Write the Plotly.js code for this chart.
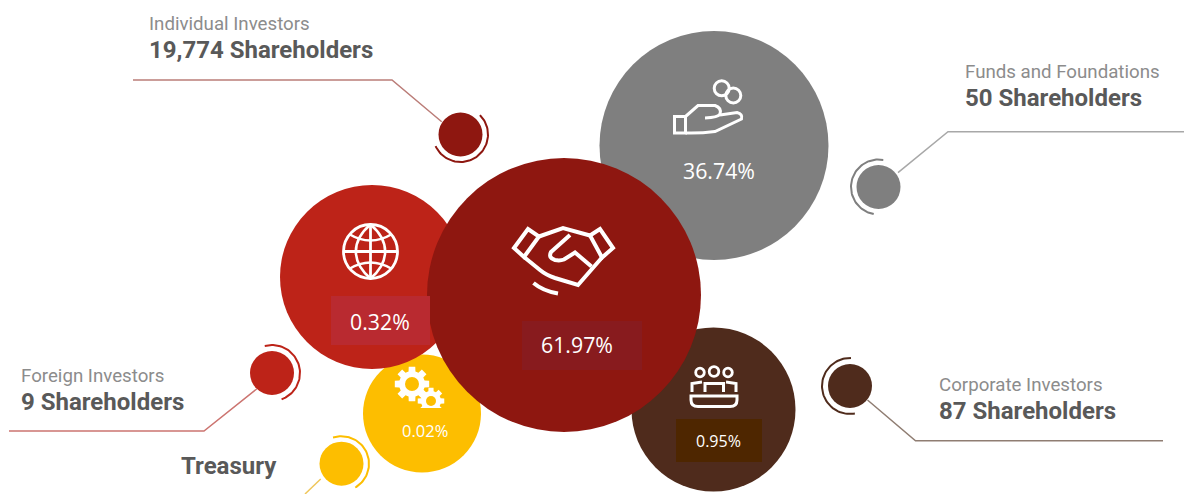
<!DOCTYPE html>
<html>
<head>
<meta charset="utf-8">
<script src="https://cdn.plot.ly/plotly-3.0.1.min.js"></script>
<style>html,body{margin:0;padding:0;background:#fff}#chart{width:1184px;height:494px}</style>
</head>
<body>
<div id="chart"></div>
<script>
// ---- data ----
const categories = ['Funds and Foundations','Corporate Investors','Treasury','Foreign Investors','Individual Investors'];
const percentLabels = ['36.74%','0.95%','0.02%','0.32%','61.97%'];
const holderLabels = ['50 Shareholders','87 Shareholders','','9 Shareholders','19,774 Shareholders'];
const colours = ['#7f7f7f','#4f2b1c','#fdbe00','#bd2318','#8e1710'];
const lineColours = ['#a8a8a8','#8f7d72','#efc65a','#cc7470','#bb7d78'];

const bubbleX = [714,713.5,422,372,564];
const bubbleY = [145.5,409.5,413.5,277,295];
const bubbleD = [229,164,118,184,274];

const dotX = [878.5,850,341.5,272,460.5];
const dotY = [187,386,463.7,373,134.5];
const dotD = [44,44,44,44,44];

const arcFrom = [-80,-88,-108,-105,-45];      // degrees clockwise from +x
const arcTo = [-260,-280,60,70,155];
const arcR = [27.5,28,27.5,28,27.5];

const leaderX = [[898,948,1184],[867.5,915.5,1163],[320.7,305],[256.7,204,9],[441.7,392,133]];
const leaderY = [[172.7,131.7,131.7],[400,440.7,440.7],[479,494],[389,431,431],[121.7,80,80]];

const labelX = [963,937,179,19,147];
const nameY = [72,385,466,376,24];
const holderY = [98,411,466,402,50];
const pctX = [719,718.5,425,380,577];
const pctY = [170.5,441,430,321,344.5];
const pctSize = [21.3,16,16.5,21.3,21.3];

// ---- traces ----
const traces = [];
categories.forEach((c,i)=>{
  traces.push({type:'scatter',mode:'lines',x:leaderX[i],y:leaderY[i],
    line:{color:lineColours[i],width:1.5},hoverinfo:'skip',showlegend:false});
});
categories.forEach((c,i)=>{
  const xs=[],ys=[],n=60;
  for(let k=0;k<=n;k++){
    const a=(arcFrom[i]+(arcTo[i]-arcFrom[i])*k/n)*Math.PI/180;
    xs.push(dotX[i]+arcR[i]*Math.cos(a));ys.push(dotY[i]+arcR[i]*Math.sin(a));
  }
  traces.push({type:'scatter',mode:'lines',x:xs,y:ys,line:{color:colours[i],width:2},hoverinfo:'skip',showlegend:false});
});
categories.forEach((c,i)=>{
  traces.push({type:'scatter',mode:'markers',name:c,x:[bubbleX[i]],y:[bubbleY[i]],
    marker:{size:bubbleD[i],color:colours[i],line:{width:0},opacity:1},hoverinfo:'skip',showlegend:false,cliponaxis:false});
});
traces.push({type:'scatter',mode:'markers',x:dotX,y:dotY,
  marker:{size:dotD,color:colours,line:{width:0},opacity:1},hoverinfo:'skip',showlegend:false});

// ---- decoration: rectangles behind percentages and icons ----
function rect(x0,y0,x1,y1,c){return {type:'rect',xref:'x',yref:'y',x0,y0,x1,y1,fillcolor:c,line:{width:0},layer:'above'};}
function icon(d,w){return {type:'path',xref:'x',yref:'y',path:d,line:{color:'#ffffff',width:w||3},layer:'above'};}
function ring(cx,cy,r,w){return {type:'circle',xref:'x',yref:'y',x0:cx-r,x1:cx+r,y0:cy-r,y1:cy+r,line:{color:'#ffffff',width:w||3},layer:'above'};}
function disc(cx,cy,r,c){return {type:'circle',xref:'x',yref:'y',x0:cx-r,x1:cx+r,y0:cy-r,y1:cy+r,fillcolor:c,line:{width:0},layer:'above'};}
function gear(cx,cy,ro,ri,n){
  let d='';const st=2*Math.PI/n;
  for(let i=0;i<n;i++){
    const a=i*st-Math.PI/2;
    const pts=[[ri,a-st*0.34],[ro,a-st*0.24],[ro,a+st*0.24],[ri,a+st*0.34]];
    pts.forEach((p,j)=>{d+=(i===0&&j===0?'M':'L')+(cx+p[0]*Math.cos(p[1])).toFixed(2)+','+(cy+p[0]*Math.sin(p[1])).toFixed(2)+' ';});
  }
  return {type:'path',xref:'x',yref:'y',path:d+'Z',fillcolor:'#ffffff',line:{width:0},layer:'above'};
}
const shapes=[
  rect(331,296,430,345,'#b92a30'),
  rect(522,321,642,370,'#881b1e'),
  rect(676,419,762,462,'#4e2600'),
  // handshake
  icon('M514,248 L528,229 L539,236.5 L524,257 Z',4),
  icon('M590,235.5 L600,229 L613,248 L602,257.5 Z',4),
  icon('M539,236.5 L563,228 L590,235.5',4),
  icon('M570,235 L551,252 Q548,258 555,260 Q560,261 564,259.5 L575,252.5 L591.5,266.5',4),
  icon('M602,257.5 L578,285 L555,278 Q546,275 540,270 L524,257',4),
  icon('M533.5,283 Q543,291 558,293.5',4),
  // hand with coins
  ring(721.7,88.3,7.5,3), ring(733.3,95.5,7.5,3),
  icon('M674.5,116.5 L685.5,116.5 L685.5,133 L674.5,133 Z',3),
  icon('M685.5,116.5 L698,105.5 L715,105.5 Q722,108 720,114 Q718,117.5 705,118',3),
  icon('M720,115 L737,112.5 Q743,114 741.5,119 L715,131.5 Q700,133.5 685.5,133',3),
  // globe
  ring(370.5,251.5,27,2.8),
  icon('M343.5,251.5 L397.5,251.5',2.8),
  icon('M370.5,224.5 L370.5,278.5',2.8),
  icon('M370.5,224.5 C351,241 351,262 370.5,278.5',2.6),
  icon('M370.5,224.5 C390,241 390,262 370.5,278.5',2.6),
  icon('M349,234 Q370.5,247 392,234',2.6),
  icon('M349,269 Q370.5,256 392,269',2.6),
  // gears
  gear(412,384,17.5,13,8), disc(412,384,7,'#fdbe00'),
  gear(431,401,13.5,10,8), disc(431,401,5,'#fdbe00'),
  rect(415,408,447,416,'#fdbe00'),
  // people around a table
  ring(700,372.5,4.3,2.8), ring(714,371.5,4.8,2.8), ring(728,372.5,4.3,2.8),
  icon('M692,392 L692,383.5 L702,382',3),
  icon('M705,392 L705,383.5 L723.5,383.5 L723.5,392',3),
  icon('M736,392 L736,383.5 L726,382',3),
  icon('M691,396 L737,396 L737,400 Q737,406.5 730,406.5 L698,406.5 Q691,406.5 691,400 Z',3)
];

// ---- text ----
const annotations=[];
categories.forEach((c,i)=>{
  if(holderLabels[i]){
    annotations.push({x:labelX[i],y:nameY[i],xref:'x',yref:'y',text:c,showarrow:false,xanchor:'left',yanchor:'middle',
      font:{family:'Roboto',size:18.7,color:'#8c8c8c'}});
    annotations.push({x:labelX[i],y:holderY[i],xref:'x',yref:'y',text:holderLabels[i],showarrow:false,xanchor:'left',yanchor:'middle',
      font:{family:'Roboto',size:24,color:'#595959',weight:700}});
  } else {
    annotations.push({x:labelX[i],y:holderY[i],xref:'x',yref:'y',text:c,showarrow:false,xanchor:'left',yanchor:'middle',
      font:{family:'Roboto',size:24,color:'#595959',weight:700}});
  }
  annotations.push({x:pctX[i],y:pctY[i],xref:'x',yref:'y',text:percentLabels[i],showarrow:false,xanchor:'center',yanchor:'middle',
    font:{family:'Open Sans',size:pctSize[i],color:'#ffffff'}});
});

const layout={
  width:1184,height:494,margin:{l:0,r:0,t:0,b:0,pad:0},
  paper_bgcolor:'#ffffff',plot_bgcolor:'#ffffff',showlegend:false,
  xaxis:{range:[0,1184],visible:false,fixedrange:true},
  yaxis:{range:[494,0],visible:false,fixedrange:true},
  shapes,annotations
};
Plotly.newPlot('chart',traces,layout,{displayModeBar:false,staticPlot:true});
</script>
</body>
</html>
